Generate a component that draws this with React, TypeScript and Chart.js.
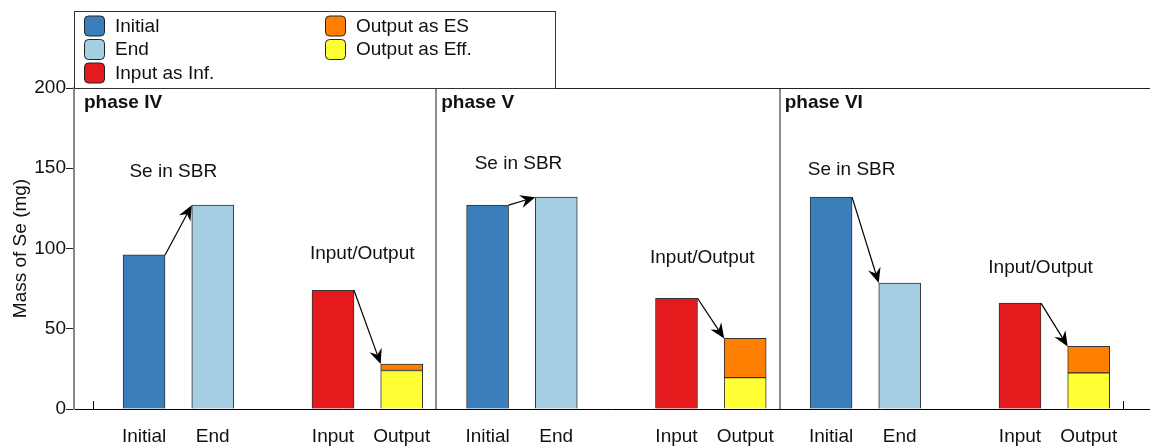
import React, { useEffect, useRef } from "react";
import { Chart, registerables } from "chart.js";

Chart.register(...registerables);

// ---------------- data ----------------
const phases = ["phase IV", "phase V", "phase VI"];
const barLabels = ["Initial", "End", "Input", "Output"];
const initialMass = [96, 127, 132];
const endMass = [127, 132, 78.5];
const inputMass = [74, 69, 66];
const outputEffMass = [24, 19.5, 22.5];
const outputESMass = [4, 24.5, 16.5];
const yTickValues = [0, 50, 100, 150, 200];
const sbrLabel = "Se in SBR";
const ioLabel = "Input/Output";

// ---------------- layout (x in slot units) ----------------
const PHASE_SPAN = 20;
const BAR_SLOT = [0, 4, 11, 15];
const X_MIN = -4.08;
const X_MAX = 58.57;
const SEPARATORS = [17, 37];
const EDGE_TICKS = [-3, 57];
const PHASE_LABEL_X = [-3.5, 17.3, 37.3];
const SBR_LABEL_POS = [
  { x: 1.7, y: 147.7 },
  { x: 21.8, y: 152.6 },
  { x: 41.2, y: 149 },
];
const IO_LABEL_POS = [
  { x: 12.7, y: 97 },
  { x: 32.5, y: 94 },
  { x: 52.2, y: 88 },
];

const FONT = "'Liberation Sans', Arial, Helvetica, sans-serif";
const TEXT = "#111";

const colors = {
  initial: "#3a7fba",
  end: "#a6cee3",
  input: "#e41a1c",
  es: "#ff7f00",
  eff: "#ffff33",
};

const toPoints = (vals: number[], slot: number) =>
  vals.map((v, i) => ({ x: i * PHASE_SPAN + BAR_SLOT[slot], y: v }));

const tickPositions: number[] = [];
phases.forEach((_, p) => BAR_SLOT.forEach((s) => tickPositions.push(p * PHASE_SPAN + s)));

function drawArrow(ctx: CanvasRenderingContext2D, x1: number, y1: number, x2: number, y2: number) {
  const ang = Math.atan2(y2 - y1, x2 - x1);
  const len = 15;
  const half = 6.5;
  const notch = 5;
  const cos = Math.cos(ang);
  const sin = Math.sin(ang);
  ctx.beginPath();
  ctx.moveTo(x1, y1);
  ctx.lineTo(x2 - cos * (len - notch), y2 - sin * (len - notch));
  ctx.strokeStyle = "#000";
  ctx.lineWidth = 1.2;
  ctx.stroke();
  const bx = x2 - cos * len;
  const by = y2 - sin * len;
  ctx.beginPath();
  ctx.moveTo(x2, y2);
  ctx.lineTo(bx - sin * half, by + cos * half);
  ctx.lineTo(x2 - cos * (len - notch), y2 - sin * (len - notch));
  ctx.lineTo(bx + sin * half, by - cos * half);
  ctx.closePath();
  ctx.fillStyle = "#000";
  ctx.fill();
}

const overlayPlugin = {
  id: "overlay",
  beforeDatasetsDraw(chart: any) {
    const { ctx, chartArea: a, scales } = chart;
    const x = scales.x;
    ctx.save();
    // phase separators
    ctx.strokeStyle = "#8c8c8c";
    ctx.lineWidth = 2;
    SEPARATORS.forEach((v) => {
      const px = Math.round(x.getPixelForValue(v));
      ctx.beginPath();
      ctx.moveTo(px, a.top);
      ctx.lineTo(px, a.bottom);
      ctx.stroke();
    });
    // small inner ticks at the ends of the bottom axis
    ctx.strokeStyle = "#000";
    ctx.lineWidth = 1;
    EDGE_TICKS.forEach((v) => {
      const px = Math.round(x.getPixelForValue(v)) + 0.5;
      ctx.beginPath();
      ctx.moveTo(px, a.bottom);
      ctx.lineTo(px, a.bottom - 8);
      ctx.stroke();
    });
    // top frame line
    ctx.strokeStyle = "#222";
    ctx.lineWidth = 1;
    ctx.beginPath();
    ctx.moveTo(a.left, Math.round(a.top) + 0.5);
    ctx.lineTo(a.right, Math.round(a.top) + 0.5);
    ctx.stroke();
    ctx.restore();
  },
  afterDatasetsDraw(chart: any) {
    const { ctx, chartArea: a, scales } = chart;
    const x = scales.x;
    const y = scales.y;
    const bar = (ds: number, i: number) => chart.getDatasetMeta(ds).data[i].getProps(["x", "y", "width"], true);
    ctx.save();
    phases.forEach((name, i) => {
      // arrows
      const ini = bar(0, i);
      const end = bar(1, i);
      drawArrow(ctx, ini.x + ini.width / 2, ini.y, end.x - end.width / 2, end.y);
      const inp = bar(2, i);
      const out = bar(4, i);
      drawArrow(ctx, inp.x + inp.width / 2, inp.y, out.x - out.width / 2, out.y);

      // phase label
      ctx.fillStyle = TEXT;
      ctx.font = `bold 19px ${FONT}`;
      ctx.textAlign = "left";
      ctx.textBaseline = "middle";
      ctx.fillText(name, x.getPixelForValue(PHASE_LABEL_X[i]), a.top + 15);

      // annotations
      ctx.font = `19px ${FONT}`;
      ctx.textAlign = "center";
      ctx.fillText(sbrLabel, x.getPixelForValue(SBR_LABEL_POS[i].x), y.getPixelForValue(SBR_LABEL_POS[i].y));
      ctx.fillText(ioLabel, x.getPixelForValue(IO_LABEL_POS[i].x), y.getPixelForValue(IO_LABEL_POS[i].y));
    });
    ctx.restore();
  },
  afterDraw(chart: any) {
    const { ctx, chartArea: a } = chart;
    const order = [0, 1, 2, 4, 3];
    const box = { left: a.left, top: 11, right: 555, bottom: a.top };
    ctx.save();
    ctx.fillStyle = "#fff";
    ctx.fillRect(box.left, box.top, box.right - box.left, box.bottom - box.top);
    ctx.strokeStyle = "#333";
    ctx.lineWidth = 1;
    ctx.strokeRect(box.left + 0.5, box.top + 0.5, box.right - box.left, box.bottom - box.top);
    const colX = [box.left + 10, box.left + 251];
    const rowY = [25.5, 49, 72.5];
    order.forEach((dsIndex, k) => {
      const ds = chart.data.datasets[dsIndex];
      const col = k < 3 ? 0 : 1;
      const row = k < 3 ? k : k - 3;
      const sx = colX[col];
      const sy = rowY[row];
      ctx.beginPath();
      (ctx as any).roundRect(sx + 0.5, sy - 10 + 0.5, 20, 20, 4);
      ctx.fillStyle = ds.backgroundColor;
      ctx.fill();
      ctx.strokeStyle = "#222";
      ctx.lineWidth = 1;
      ctx.stroke();
      ctx.fillStyle = TEXT;
      ctx.font = `19px ${FONT}`;
      ctx.textAlign = "left";
      ctx.textBaseline = "middle";
      ctx.fillText(ds.label, sx + 31, sy + 1);
    });
    ctx.restore();
  },
};

export default function App() {
  const canvasRef = useRef<HTMLCanvasElement | null>(null);

  useEffect(() => {
    if (!canvasRef.current) return;
    Chart.defaults.font.family = FONT;
    const barCommon = {
      borderColor: "#333",
      borderWidth: 1,
      borderSkipped: "start",
      barThickness: 42,
    };
    const chart = new Chart(canvasRef.current, {
      type: "bar",
      data: {
        datasets: [
          { label: "Initial", data: toPoints(initialMass, 0), backgroundColor: colors.initial, ...barCommon },
          { label: "End", data: toPoints(endMass, 1), backgroundColor: colors.end, ...barCommon },
          { label: "Input as Inf.", data: toPoints(inputMass, 2), backgroundColor: colors.input, ...barCommon },
          { label: "Output as Eff.", data: toPoints(outputEffMass, 3), backgroundColor: colors.eff, ...barCommon },
          { label: "Output as ES", data: toPoints(outputESMass, 3), backgroundColor: colors.es, ...barCommon, borderSkipped: false },
        ] as any,
      },
      options: {
        responsive: false,
        animation: false,
        devicePixelRatio: 1,
        layout: { padding: { top: 88, left: 0, right: 0, bottom: 0 } },
        plugins: { legend: { display: false }, tooltip: { enabled: false } },
        scales: {
          x: {
            type: "linear",
            stacked: true,
            offset: false,
            min: X_MIN,
            max: X_MAX,
            grid: { display: false, drawTicks: false },
            border: { display: true, color: "#000", width: 1 },
            afterBuildTicks: (scale: any) => {
              scale.ticks = tickPositions.map((v) => ({ value: v }));
            },
            afterFit: (scale: any) => {
              scale.height = 38;
            },
            ticks: {
              autoSkip: false,
              maxRotation: 0,
              padding: 16,
              color: TEXT,
              font: { size: 19, family: FONT },
              callback: (_v: any, i: number) => barLabels[i % barLabels.length],
            },
          },
          y: {
            stacked: true,
            min: 0,
            max: 200,
            afterBuildTicks: (scale: any) => {
              scale.ticks = yTickValues.map((v) => ({ value: v }));
            },
            afterFit: (scale: any) => {
              scale.width = 74;
            },
            grid: { display: true, drawOnChartArea: false, drawTicks: true, tickLength: 8, color: "#222" },
            border: { display: true, color: "#888", width: 2 },
            ticks: { padding: 0, color: TEXT, font: { size: 19, family: FONT } },
            title: {
              display: true,
              text: "Mass of Se (mg)",
              color: TEXT,
              font: { size: 19, family: FONT },
              padding: { top: 9, bottom: 0 },
            },
          },
        },
      } as any,
      plugins: [overlayPlugin],
    });
    return () => chart.destroy();
  }, []);

  return (
    <div style={{ position: "absolute", left: 0, top: 0, width: 1150, height: 447, background: "#fff" }}>
      <canvas ref={canvasRef} width={1150} height={447} />
    </div>
  );
}
